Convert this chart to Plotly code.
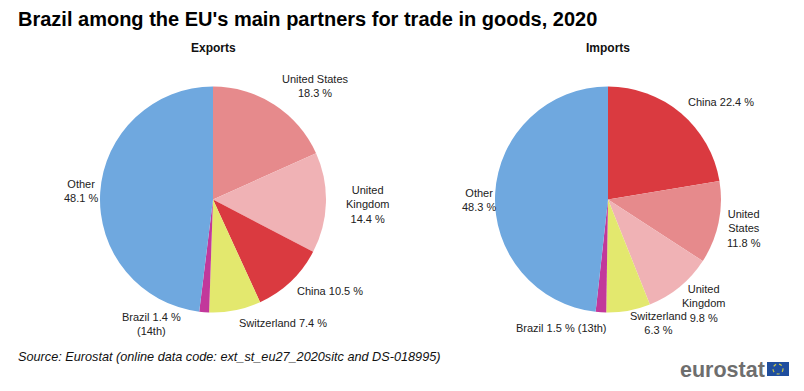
import plotly.graph_objects as go

W, H = 804, 391
TITLE = "Brazil among the EU's main partners for trade in goods, 2020"
SOURCE = "Source: Eurostat (online data code: ext_st_eu27_2020sitc and DS-018995)"

export_names = ["United States", "United Kingdom", "China", "Switzerland", "Brazil", "Other"]
export_values = [18.3, 14.4, 10.5, 7.4, 1.4, 48.1]
export_colors = ["#E68A8C", "#F0B2B5", "#DA3A40", "#E3E86E", "#C2389B", "#6FA8DF"]

import_names = ["China", "United States", "United Kingdom", "Switzerland", "Brazil", "Other"]
import_values = [22.4, 11.8, 9.8, 6.3, 1.5, 48.3]
import_colors = ["#DA3A40", "#E68A8C", "#F0B2B5", "#E3E86E", "#C2389B", "#6FA8DF"]

export_labels = [
    ("United States<br>18.3 %", 315, 86),
    ("United<br>Kingdom<br>14.4 %", 367, 204),
    ("China 10.5 %", 330, 291),
    ("Switzerland 7.4 %", 283, 323),
    ("Brazil 1.4 %<br>(14th)", 151, 324),
    ("Other<br>48.1 %", 81, 191),
]
import_labels = [
    ("China 22.4 %", 721, 102),
    ("United<br>States<br>11.8 %", 744, 228),
    ("United<br>Kingdom<br>9.8 %", 703, 303),
    ("Switzerland<br>6.3 %", 658, 323),
    ("Brazil 1.5 % (13th)", 561, 328),
    ("Other<br>48.3 %", 479, 200),
]


def px(x):
    return x / W


def py(y):
    return 1 - y / H


def pie(names, values, colors, cx):
    return go.Pie(
        labels=names, values=values, sort=False, direction="clockwise", rotation=0,
        marker=dict(colors=colors, line=dict(width=0)),
        textinfo="none", showlegend=False, hoverinfo="label+value",
        domain=dict(x=[px(cx - 113), px(cx + 113)], y=[py(199.5 + 113), py(199.5 - 113)]),
    )


fig = go.Figure([pie(export_names, export_values, export_colors, 213),
                 pie(import_names, import_values, import_colors, 608)])

ann = []


def text(s, x, y, size=11, color="#222222", anchor="center", **font):
    ann.append(dict(text=s, x=px(x), y=py(y), xref="paper", yref="paper", showarrow=False,
                    xanchor=anchor, yanchor="middle", align="center",
                    font=dict(family="Liberation Sans, Arial, sans-serif", size=size, color=color, **font)))


for s, x, y in export_labels + import_labels:
    text(s, x, y)
text("<b>" + TITLE + "</b>", 16, 19, size=20, color="#000000", anchor="left")
text("<b>Exports</b>", 213, 48, size=12, color="#111111")
text("<b>Imports</b>", 608, 48, size=12, color="#111111")
text("<i>" + SOURCE + "</i>", 16, 357, size=12.7, color="#111111", anchor="left")
text("<b>eurostat</b>", 767, 370, size=21.5, color="#6E6E6E", anchor="right")

fig.update_layout(
    width=W, height=H, autosize=False,
    margin=dict(l=0, r=0, t=0, b=0),
    paper_bgcolor="white", plot_bgcolor="white",
    annotations=ann,
    shapes=[
        dict(type="rect", xref="paper", yref="paper", x0=px(767), x1=px(789), y0=py(376), y1=py(362),
             fillcolor="#1F4E9E", line=dict(width=0)),
        dict(type="circle", xref="paper", yref="paper", x0=px(773), x1=px(783), y0=py(374), y1=py(364),
             fillcolor="rgba(0,0,0,0)", line=dict(width=1.2, color="#C9C84A", dash="dot")),
    ],
)
fig.write_html("out.html", config={"displayModeBar": False},
               post_script="document.body.style.margin='0';document.body.style.overflow='hidden';")
